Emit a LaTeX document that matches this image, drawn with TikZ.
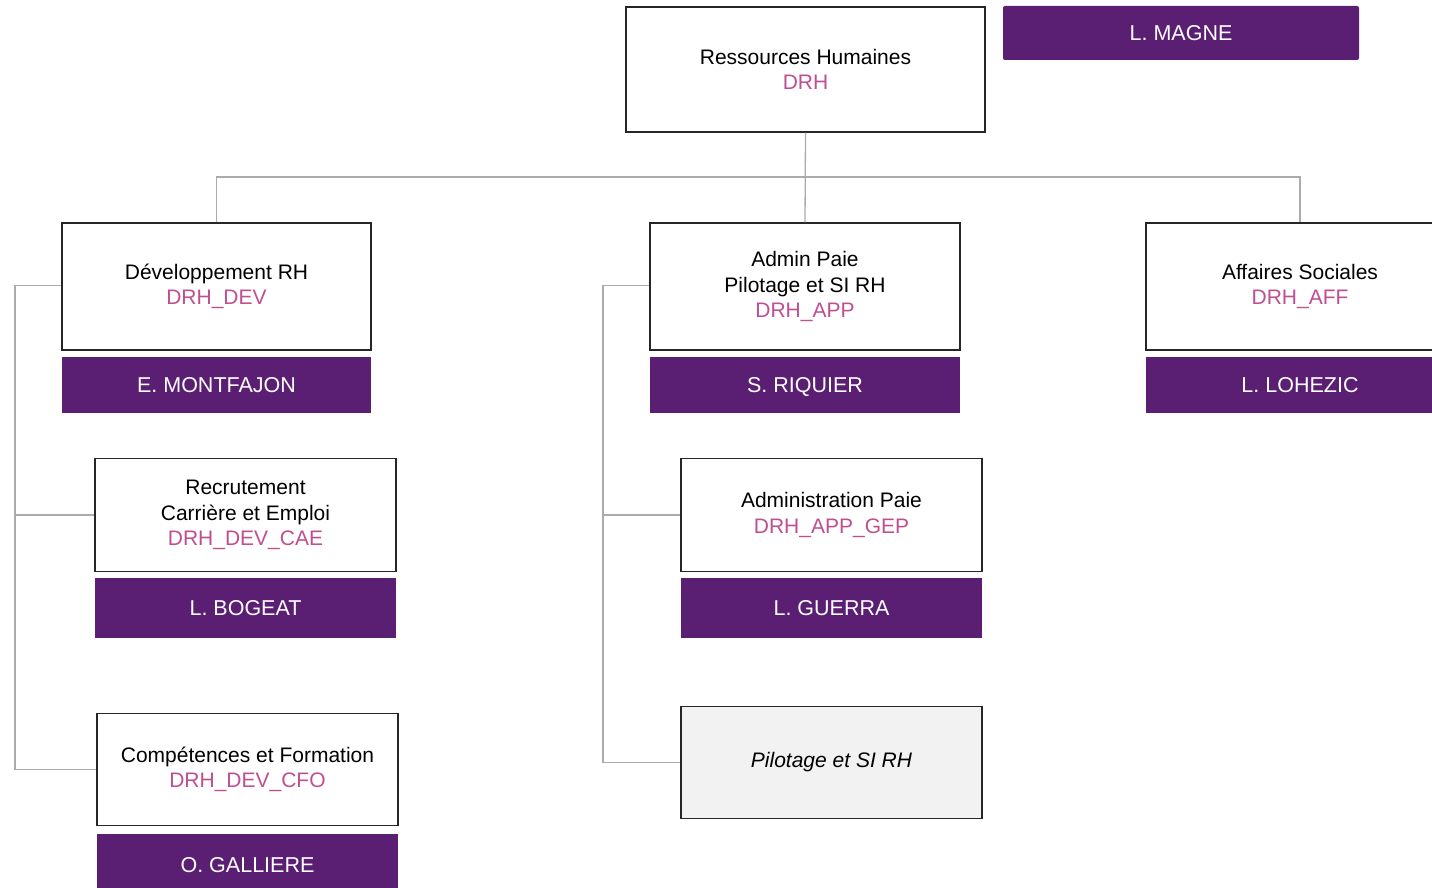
\documentclass[tikz,border=0pt]{standalone}
\usepackage{fontspec}
\setmainfont{Liberation Sans}
\usepackage{tikz}
\usetikzlibrary{calc}
\definecolor{drhpurple}{HTML}{5A1E72}
\definecolor{drhpink}{HTML}{BF4F91}
\definecolor{linkgray}{HTML}{ABABAB}
\definecolor{pilotgray}{HTML}{F2F2F2}

\begin{document}
\begin{tikzpicture}[x=1pt, y=-1pt,
	unit/.style={draw=black!85, line width=1.5pt, fill=white, align=center, inner sep=0pt,
		font=\fontsize{21}{25.5}\selectfont},
	chief/.style={fill=drhpurple, text=white, inner sep=0pt, text height=15pt, text depth=0pt,
		font=\fontsize{21.5}{25}\selectfont},
	link/.style={draw=linkgray, line width=1.3pt}]
	\useasboundingbox (0,0) rectangle (1432,888);
	\clip (0,0) rectangle (1432,888);

	\def\code#1{\\\textcolor{drhpink}{#1}}

	% direction
	\node[unit, minimum width=359pt, minimum height=125pt] (rh) at (805.5,69.5) {Ressources Humaines\code{DRH}};
	\node[chief, rounded corners=2pt, minimum width=356pt, minimum height=54pt] (magne) at (1181,33) {L. MAGNE};

	% services
	\node[unit, minimum width=309pt, minimum height=127pt] (dev) at (216.5,286.5) {D\'eveloppement RH\code{DRH\_DEV}};
	\node[chief, minimum width=309pt, minimum height=56pt] (devboss) at (216.5,385) {E. MONTFAJON};
	\node[unit, minimum width=310pt, minimum height=127pt] (app) at (805,286.5) {Admin Paie\\Pilotage et SI RH\code{DRH\_APP}};
	\node[chief, minimum width=310pt, minimum height=56pt] (appboss) at (805,385) {S. RIQUIER};
	\node[unit, minimum width=308pt, minimum height=127pt] (aff) at (1300,286.5) {Affaires Sociales\code{DRH\_AFF}};
	\node[chief, minimum width=308pt, minimum height=56pt] (affboss) at (1300,385) {L. LOHEZIC};

	% poles
	\node[unit, minimum width=301pt, minimum height=113pt] (cae) at (245.5,515) {Recrutement\\Carri\`ere et Emploi\code{DRH\_DEV\_CAE}};
	\node[chief, minimum width=301pt, minimum height=60pt] (caeboss) at (245.5,608) {L. BOGEAT};
	\node[unit, minimum width=301pt, minimum height=112pt] (cfo) at (247.5,769.5) {Comp\'etences et Formation\code{DRH\_DEV\_CFO}};
	\node[chief, minimum width=301pt, minimum height=62pt] (cfoboss) at (247.5,865) {O. GALLIERE};
	\node[unit, minimum width=301pt, minimum height=113pt] (gep) at (831.5,515) {Administration Paie\code{DRH\_APP\_GEP}};
	\node[chief, minimum width=301pt, minimum height=60pt] (gepboss) at (831.5,608) {L. GUERRA};
	\node[unit, fill=pilotgray, minimum width=301pt, minimum height=112pt] (pil) at (831.5,762.5) {\itshape Pilotage et SI RH};

	% liens
	\coordinate (bus) at (805,177);
	\coordinate (devrail) at (15,285.5);
	\coordinate (apprail) at (603,285.5);
	\draw[link] (rh.south) -- (app.north);
	\draw[link] (dev.north) |- (bus) -| (aff.north);
	\draw[link] (dev.west |- devrail) -- (devrail) |- (cfo.west);
	\draw[link] (devrail |- cae.west) -- (cae.west);
	\draw[link] (app.west |- apprail) -- (apprail) |- (pil.west);
	\draw[link] (apprail |- gep.west) -- (gep.west);
\end{tikzpicture}
\end{document}
